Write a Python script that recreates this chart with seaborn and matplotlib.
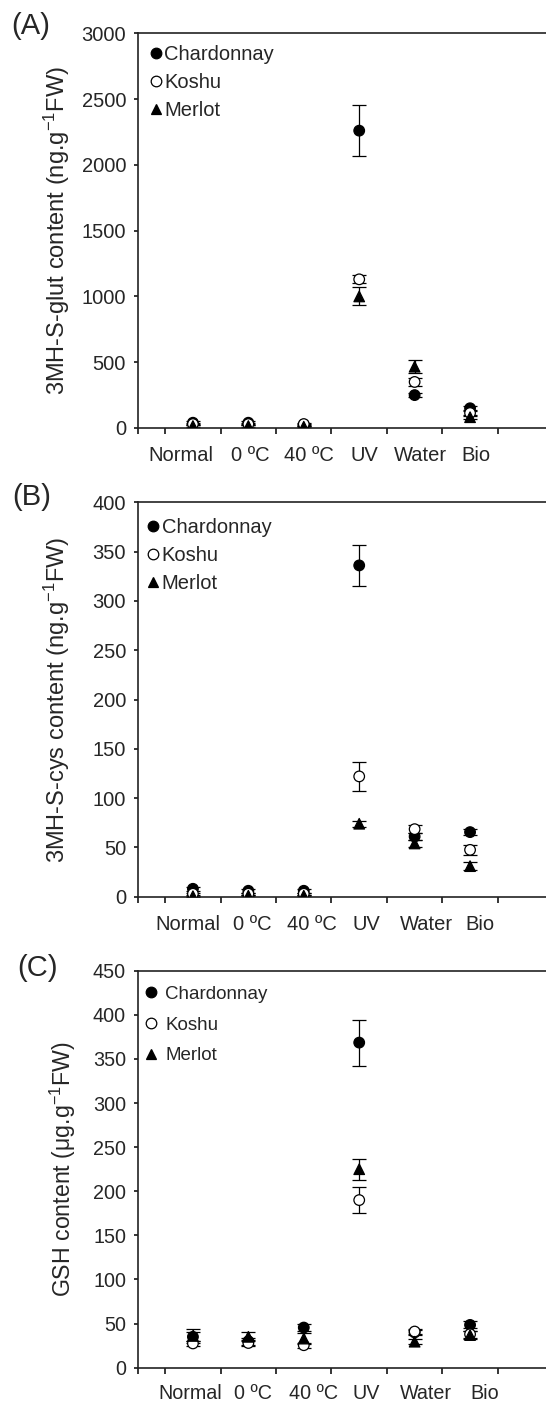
import numpy as np
import pandas as pd
import matplotlib
matplotlib.use('Agg')
import matplotlib.pyplot as plt
import matplotlib.transforms as mtransforms
import seaborn as sns
from matplotlib.ticker import FixedLocator

treatments = ['Normal', '0 ºC', '40 ºC', 'UV', 'Water', 'Bio']
cultivars = ['Chardonnay', 'Koshu', 'Merlot']

# (A) 3MH-S-glut, ng/g FW
chard_glut = [40, 40, 25, 2260, 250, 150]
chard_glut_err = [10, 10, 8, 195, 15, 18]
koshu_glut = [30, 30, 30, 1130, 350, 114]
koshu_glut_err = [8, 8, 8, 30, 30, 20]
merlot_glut = [15, 15, 10, 1000, 466, 82]
merlot_glut_err = [5, 5, 5, 68, 50, 15]

# (B) 3MH-S-cys, ng/g FW
chard_cys = [8, 6, 6, 336, 61, 65.5]
chard_cys_err = [2, 2, 2, 21, 4, 3]
koshu_cys = [3, 3, 3, 122, 68.5, 47.5]
koshu_cys_err = [1, 1, 1, 15, 4, 5]
merlot_cys = [0.5, 1, 1, 74, 54, 31]
merlot_cys_err = [0.5, 0.5, 0.5, 3, 4, 4]

# (C) GSH, ug/g FW
chard_gsh = [35, 30, 45.5, 368.5, 40, 48.5]
chard_gsh_err = [5, 4, 4, 26, 3, 4]
koshu_gsh = [27.5, 28, 25.5, 190, 41, 38]
koshu_gsh_err = [3, 3, 3, 15, 3, 4]
merlot_gsh = [36, 35, 33, 225, 29.5, 37]
merlot_gsh_err = [8, 5, 6, 12, 3, 5]

sns.set_style('ticks')
plt.rcParams['font.family'] = ['Liberation Sans', 'DejaVu Sans']
plt.rcParams['mathtext.default'] = 'regular'

palette = {'Chardonnay': 'black', 'Koshu': 'white', 'Merlot': 'black'}
marker_map = {'Chardonnay': 'o', 'Koshu': 'o', 'Merlot': '^'}


def make_df(series):
    rows = []
    for name, vals, errs in series:
        for i, t in enumerate(treatments):
            rows.append({'cultivar': name, 'treatment': t, 'pos': i,
                         'value': vals[i], 'err': errs[i]})
    return pd.DataFrame(rows)


def draw_panel(fig, ax, df, ymax, ystep, ylabel, label_x, leg_anchor, leg_fs,
               leg_textpad, leg_spacing, xpad, label_shift, fs=14.5, yfs=17):
    ax.errorbar(df['pos'], df['value'], yerr=df['err'], fmt='none',
                ecolor='black', elinewidth=0.9, capsize=4.8, capthick=0.9,
                zorder=1)
    sns.scatterplot(data=df, x='pos', y='value', hue='cultivar',
                    style='cultivar', hue_order=cultivars,
                    style_order=cultivars, markers=marker_map,
                    palette=palette, edgecolor='black', linewidth=0.9, s=58,
                    ax=ax, zorder=3)
    old = ax.get_legend()
    handles = old.legend_handles
    labels = [t.get_text() for t in old.get_texts()]
    old.remove()
    for h in handles:
        h.set_markeredgecolor('black')
    ax.legend(handles, labels, loc='upper left', bbox_to_anchor=leg_anchor,
              frameon=False, borderpad=0, borderaxespad=0, handlelength=0.6,
              handletextpad=leg_textpad, labelspacing=leg_spacing,
              fontsize=leg_fs)

    ax.set_xlim(-1, 6.37)
    ax.set_ylim(0, ymax)
    ax.set_xticks(range(len(treatments)))
    ax.set_xticklabels(treatments, fontsize=fs)
    boundaries = [-1.0] + list(np.arange(-0.5, 6.0, 1.0))
    ax.xaxis.set_minor_locator(FixedLocator(boundaries))
    ax.tick_params(axis='x', which='major', length=0, pad=xpad)
    ax.tick_params(axis='x', which='minor', length=4, width=1.1,
                   direction='out', color='black')
    ax.set_yticks(np.arange(0, ymax + 1, ystep))
    ax.tick_params(axis='y', length=3.2, width=1.1, pad=5, labelsize=fs,
                   color='black')
    ax.spines['right'].set_visible(False)
    for s in ['top', 'left', 'bottom']:
        ax.spines[s].set_linewidth(1.2)
        ax.spines[s].set_color('#222222')
    ax.set_xlabel('')
    ax.set_ylabel(ylabel, fontsize=yfs)
    ax.yaxis.set_label_coords(label_x, 0.5)
    # nudge the category labels sideways the way they sit in the original
    for lab, dx in zip(ax.get_xticklabels(), label_shift):
        off = mtransforms.ScaledTranslation(dx / 100.0, 0, fig.dpi_scale_trans)
        lab.set_transform(lab.get_transform() + off)


fig = plt.figure(figsize=(5.46, 14.04), dpi=100)
W, H = 546.0, 1404.0
left = 137.5 / W
width = 1.0 - left

axA = fig.add_axes([left, 1 - 428 / H, width, (428 - 33.3) / H])
axB = fig.add_axes([left, 1 - 896.7 / H, width, (896.7 - 502.3) / H])
axC = fig.add_axes([left, 1 - 1367.7 / H, width, (1367.7 - 970.7) / H])

dfA = make_df([('Chardonnay', chard_glut, chard_glut_err),
               ('Koshu', koshu_glut, koshu_glut_err),
               ('Merlot', merlot_glut, merlot_glut_err)])
dfB = make_df([('Chardonnay', chard_cys, chard_cys_err),
               ('Koshu', koshu_cys, koshu_cys_err),
               ('Merlot', merlot_cys, merlot_cys_err)])
dfC = make_df([('Chardonnay', chard_gsh, chard_gsh_err),
               ('Koshu', koshu_gsh, koshu_gsh_err),
               ('Merlot', merlot_gsh, merlot_gsh_err)])

draw_panel(fig, axA, dfA, 3000, 500, '3MH-S-glut content (ng.g$^{-1}$FW)',
           -0.16, (0.0306, 0.970), 14.5, 0.1, 0.45, 13,
           [-12, 2, 5, 5, 6, 6])
draw_panel(fig, axB, dfB, 400, 50, '3MH-S-cys content (ng.g$^{-1}$FW)',
           -0.16, (0.024, 0.960), 14.5, 0.12, 0.45, 13,
           [-5, 4, 8, 7, 12, 10])
draw_panel(fig, axC, dfC, 450, 50, 'GSH content (μg.g$^{-1}$FW)',
           -0.145, (0.0193, 0.962), 13.5, 0.45, 0.72, 11.5,
           [-3, 5, 10, 7, 11, 15], fs=14.2, yfs=16.7)

fig.text(11 / W, 1 - 25.5 / H, '(A)', fontsize=21, va='center', ha='left')
fig.text(12 / W, 1 - 496.5 / H, '(B)', fontsize=21, va='center', ha='left')
fig.text(17 / W, 1 - 967.5 / H, '(C)', fontsize=21, va='center', ha='left')

fig.savefig('out.png', dpi=100)
